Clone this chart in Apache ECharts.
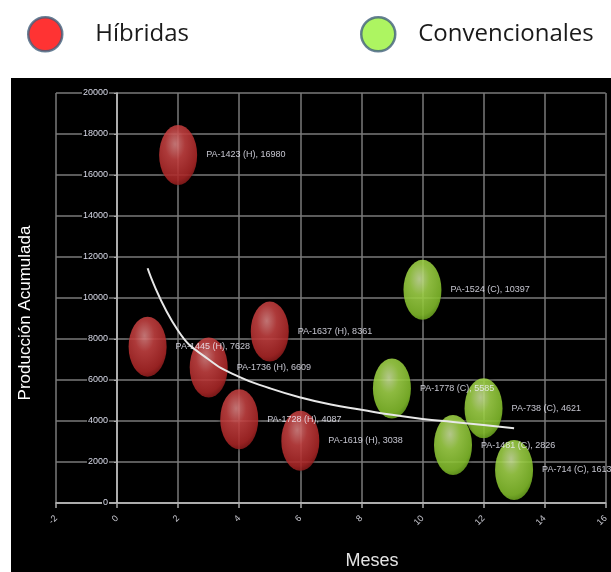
<!DOCTYPE html>
<html>
<head>
<meta charset="utf-8">
<script src="https://cdn.jsdelivr.net/npm/echarts@6/dist/echarts.min.js"></script>
<style>
html,body{margin:0;padding:0;background:#fff;}
#wrap{position:relative;width:611px;height:572px;overflow:hidden;}
#bg{position:absolute;left:11px;top:78px;width:600px;height:494px;background:#000;}
#chart{position:absolute;left:0;top:0;width:611px;height:572px;}
</style>
</head>
<body>
<div id="wrap"><div id="bg"></div><div id="chart"></div></div>
<script>
// Data
const hibNames = ['PA-1423 (H)', 'PA-1445 (H)', 'PA-1736 (H)', 'PA-1637 (H)', 'PA-1728 (H)', 'PA-1619 (H)'];
const hibMeses = [2, 1, 3, 5, 4, 6];
const hibProd  = [16980, 7628, 6609, 8361, 4087, 3038];

const conNames = ['PA-1524 (C)', 'PA-1778 (C)', 'PA-738 (C)', 'PA-1481 (C)', 'PA-714 (C)'];
const conMeses = [10, 9, 12, 11, 13];
const conProd  = [10397, 5585, 4621, 2826, 1613];

// trend curve
const trendMeses = [1, 2, 3, 4, 5, 6, 7, 8, 9, 10, 11, 12, 13];
const trendProd  = [11450, 8400, 7000, 6150, 5600, 5150, 4800, 4550, 4300, 4100, 3950, 3800, 3650];

const xTicks = { min: -2, max: 16, interval: 2 };
const yTicks = { min: 0, max: 20000, interval: 2000 };

const redGrad = new echarts.graphic.RadialGradient(0.42, 0.32, 0.75, [
  { offset: 0, color: '#f09090' },
  { offset: 0.35, color: '#d84848' },
  { offset: 0.8, color: '#bb2a2a' },
  { offset: 1, color: '#801616' }
]);
const greenGrad = new echarts.graphic.RadialGradient(0.42, 0.32, 0.75, [
  { offset: 0, color: '#e0f8ac' },
  { offset: 0.35, color: '#b0e850' },
  { offset: 0.8, color: '#90d030' },
  { offset: 1, color: '#609c18' }
]);

function pts(xs, ys, names) {
  return xs.map((x, i) => ({ value: [x, ys[i]], name: names[i] }));
}

const labelStyle = {
  show: true,
  position: 'right',
  distance: 9,
  color: '#f2f2ff',
  fontSize: 9,
  fontFamily: 'Liberation Sans',
  formatter: p => p.name + ', ' + p.value[1]
};

const chart = echarts.init(document.getElementById('chart'), null, { renderer: 'canvas' });
chart.setOption({
  backgroundColor: 'transparent',
  animation: false,
  legend: [
    {
      left: 27, top: 16, padding: 0,
      data: [{ name: 'Híbridas', itemStyle: { color: '#ff0000', borderColor: '#41607c', borderWidth: 2.5 } }],
      icon: 'circle', itemWidth: 36, itemHeight: 34,
      textStyle: { color: '#1a1a1a', fontSize: 24, fontFamily: 'Open Sans', padding: [0, 0, 0, 27] }
    },
    {
      left: 360, top: 16, padding: 0,
      data: [{ name: 'Convencionales', itemStyle: { color: '#99f23a', borderColor: '#41607c', borderWidth: 2.5 } }],
      icon: 'circle', itemWidth: 36, itemHeight: 34,
      textStyle: { color: '#1a1a1a', fontSize: 24, fontFamily: 'Open Sans', padding: [0, 0, 0, 17] }
    }
  ],
  grid: { left: 56, right: 4, top: 93, bottom: 69, containLabel: false },
  xAxis: {
    type: 'value',
    min: xTicks.min, max: xTicks.max, interval: xTicks.interval,
    axisLine: { show: true, onZero: true, lineStyle: { color: '#c8c8c8', width: 1.5 } },
    axisTick: { show: true, length: 5, lineStyle: { color: '#aaaaaa', width: 1.5 } },
    splitLine: { show: true, lineStyle: { color: '#7a7a7a', width: 1.5 } },
    axisLabel: { color: '#c8c8d0', fontSize: 9, fontFamily: 'Liberation Sans', rotate: 45, margin: 14 }
  },
  yAxis: {
    type: 'value',
    min: yTicks.min, max: yTicks.max, interval: yTicks.interval,
    offset: -61,
    axisLine: { show: true, onZero: false, lineStyle: { color: '#c8c8c8', width: 1.5 } },
    axisTick: { show: true, length: 3, lineStyle: { color: '#aaaaaa' } },
    splitLine: { show: true, lineStyle: { color: '#7a7a7a', width: 1.5 } },
    axisLabel: { color: '#d8dae8', fontSize: 9, fontFamily: 'Liberation Sans', margin: 8,
                 backgroundColor: '#000', padding: [0, 1],
                 formatter: v => String(v) }
  },
  series: [
    {
      name: 'Híbridas', type: 'scatter', z: 3,
      symbol: 'circle', symbolSize: [38, 60],
      itemStyle: { color: redGrad, shadowColor: 'rgba(0,0,0,0.6)', shadowBlur: 4 },
      label: labelStyle,
      data: pts(hibMeses, hibProd, hibNames)
    },
    {
      name: 'Convencionales', type: 'scatter', z: 3,
      symbol: 'circle', symbolSize: [38, 60],
      itemStyle: { color: greenGrad, shadowColor: 'rgba(0,0,0,0.6)', shadowBlur: 4 },
      label: labelStyle,
      data: pts(conMeses, conProd, conNames)
    },
    {
      name: 'Tendencia', type: 'line', z: 5, smooth: true, symbol: 'none',
      lineStyle: { color: '#e8e8e8', width: 2 },
      data: trendMeses.map((x, i) => [x, trendProd[i]])
    }
  ],
  graphic: [
    { type: 'text', x: 25, y: 313, rotation: Math.PI / 2,
      style: { text: 'Producción Acumulada', fill: '#ffffff', font: '17px "Liberation Sans"',
               align: 'center', verticalAlign: 'middle' } },
    { type: 'text', x: 372, y: 561,
      style: { text: 'Meses', fill: '#e4e4e4', font: '18px "Liberation Sans"',
               align: 'center', verticalAlign: 'middle' } }
  ]
});
</script>
</body>
</html>
